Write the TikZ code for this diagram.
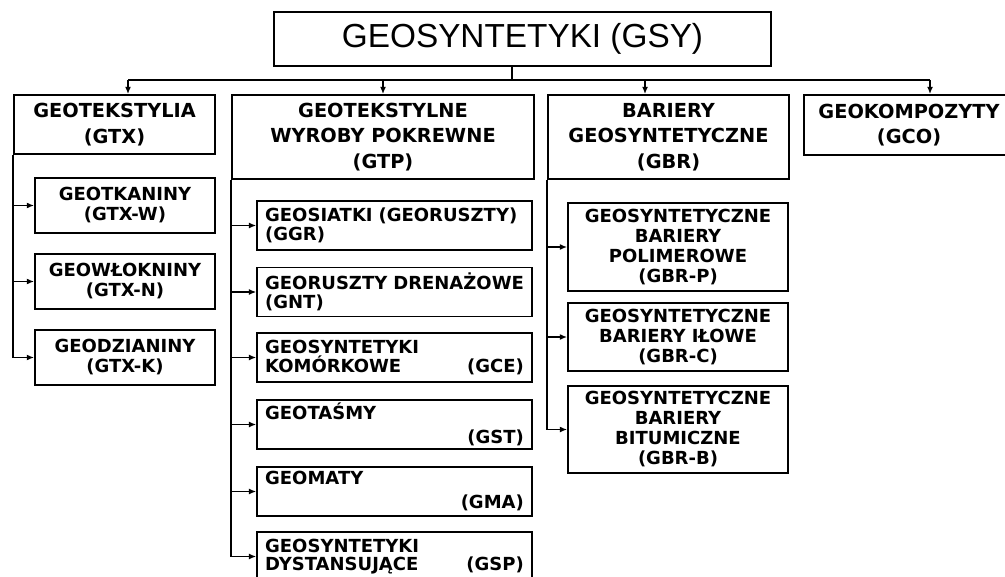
\documentclass[tikz,border=0pt]{standalone}
\usepackage{fontspec}
\setmainfont{DejaVu Sans}
\newfontfamily\titlefont{Liberation Sans}
\usetikzlibrary{arrows.meta}

\begin{document}
\begin{tikzpicture}[x=0.75pt, y=-0.75pt, line width=1.3pt, >={Latex[length=5.5pt,width=4.5pt]},
                      topbox/.style={draw, minimum width=372.75pt, minimum height=40.5pt, font=\titlefont\fontsize{25}{30}\selectfont},
                      groupbox/.style={draw, align=center, inner sep=0pt, font=\bfseries\fontsize{14.5}{19}\selectfont},
                      itembox/.style={draw, align=center, inner sep=0pt, font=\bfseries\fontsize{13.5}{15}\selectfont},
                      listbox/.style={draw, text width=194pt, align=left, inner xsep=6pt, inner ysep=0pt, minimum height=36.75pt, font=\bfseries\fontsize{13.5}{14}\selectfont}]
                      \useasboundingbox (0,0) rectangle (1005,577);
                      \clip (0,0) rectangle (1005,577);

                      \node[topbox] (gsy) at (522.5,39) {GEOSYNTETYKI (GSY)};
                      \coordinate (stem) at (512,80);
                      \coordinate (barL) at (128,80);
                      \coordinate (barR) at (930,80);
                      \coordinate (gbrtop) at (645,80);

                      \node[groupbox, minimum width=150.75pt, minimum height=44.25pt] (gtx) at (114.5,124.5) {GEOTEKSTYLIA\\(GTX)};
                      \node[groupbox, minimum width=226.5pt, minimum height=63pt] (gtp) at (383,137) {GEOTEKSTYLNE\\WYROBY POKREWNE\\(GTP)};
                      \node[groupbox, minimum width=180.75pt, minimum height=63pt] (gbr) at (668.5,137) {BARIERY\\GEOSYNTETYCZNE\\(GBR)};
                      \node[groupbox, minimum width=157.5pt, minimum height=45pt] (gco) at (909,125) {GEOKOMPOZYTY\\(GCO)};

                      \node[itembox, minimum width=135pt, minimum height=41.25pt] (gtxw) at (125,205.5) {GEOTKANINY\\(GTX-W)};
                      \node[itembox, minimum width=135pt, minimum height=41.25pt] (gtxn) at (125,281.5) {GEOWŁOKNINY\\(GTX-N)};
                      \node[itembox, minimum width=135pt, minimum height=41.25pt] (gtxk) at (125,357.5) {GEODZIANINY\\(GTX-K)};

                      \node[listbox] (ggr) at (394.5,225.5) {GEOSIATKI (GEORUSZTY)\\(GGR)};
                      \node[listbox] (gnt) at (394.5,292) {\mbox{GEORUSZTY DRENAŻOWE}\\(GNT)};
                      \node[listbox] (gce) at (394.5,357.5) {GEOSYNTETYKI\\KOMÓRKOWE\hspace{0pt plus 1filll}(GCE)};
                      \node[listbox] (gst) at (394.5,424.5) {GEOTAŚMY\\[4pt]\hspace*{0pt plus 1filll}(GST)};
                      \node[listbox] (gma) at (394.5,491.5) {GEOMATY\\[4pt]\hspace*{0pt plus 1filll}(GMA)};
                      \node[listbox] (gsp) at (394.5,556.5) {GEOSYNTETYKI\\DYSTANSUJĄCE\hspace{0pt plus 1filll}(GSP)};

                      \node[itembox, minimum width=165pt, minimum height=66pt] (gbrp) at (678,247) {GEOSYNTETYCZNE\\BARIERY\\POLIMEROWE\\(GBR-P)};
                      \node[itembox, minimum width=165pt, minimum height=51pt] (gbrc) at (678,337) {GEOSYNTETYCZNE\\BARIERY IŁOWE\\(GBR-C)};
                      \node[itembox, minimum width=165pt, minimum height=65.25pt] (gbrb) at (678,429.5) {GEOSYNTETYCZNE\\BARIERY\\BITUMICZNE\\(GBR-B)};

                      \draw (gsy.south -| stem) -- (stem);
                      \draw (barL) -- (barR);
                      \draw[->] (barL) -- (barL |- gtx.north);
                      \draw[->] (gtp.north |- barL) -- (gtp.north);
                      \draw[->] (gbrtop) -- (gbrtop |- gbr.north);
                      \draw[->] (barR) -- (barR |- gco.north);

                      \draw[->] (gtx.south west) |- (gtxk.west);
                      \foreach \n in {gtxw,gtxn}
                        \draw[->] (gtx.south west |- \n.west) -- (\n.west);
                      \draw[->] (gtp.south west) |- (gsp.west);
                      \foreach \n in {ggr,gnt,gce,gst,gma}
                        \draw[->] (gtp.south west |- \n.west) -- (\n.west);
                      \draw[->] (gbr.south west) |- (gbrb.west);
                      \foreach \n in {gbrp,gbrc}
                        \draw[->] (gbr.south west |- \n.west) -- (\n.west);
                  \end{tikzpicture}
\end{document}
